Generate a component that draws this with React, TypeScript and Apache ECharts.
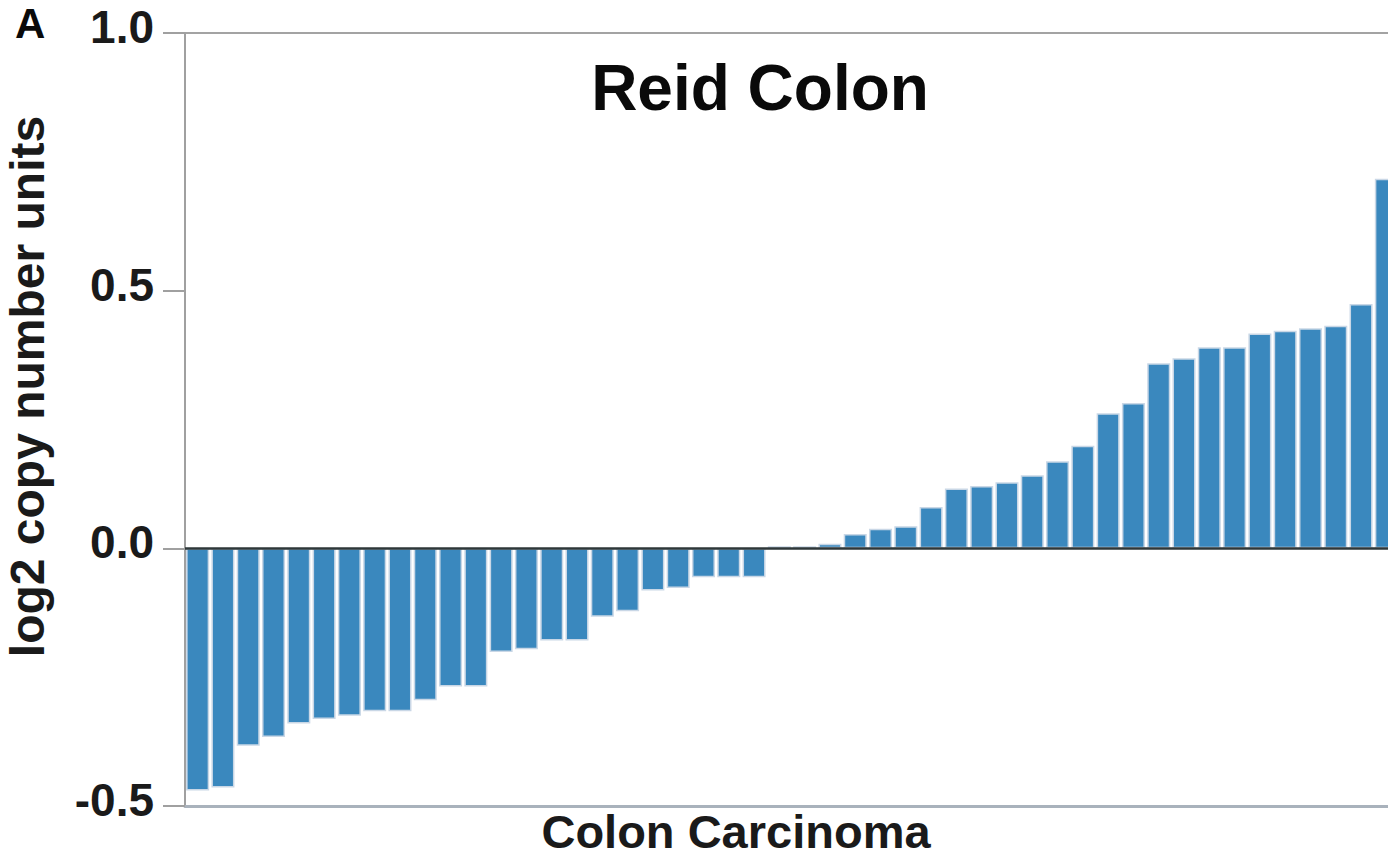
import React, { useEffect, useRef } from "react";
import * as echarts from "echarts";

const samples = [
  "S01", "S02", "S03", "S04", "S05", "S06", "S07", "S08", "S09", "S10",
  "S11", "S12", "S13", "S14", "S15", "S16", "S17", "S18", "S19", "S20",
  "S21", "S22", "S23", "S24", "S25", "S26", "S27", "S28", "S29", "S30",
  "S31", "S32", "S33", "S34", "S35", "S36", "S37", "S38", "S39", "S40",
  "S41", "S42", "S43", "S44", "S45", "S46", "S47", "S48",
];

const copyNumber = [
  -0.47, -0.464, -0.383, -0.366, -0.34, -0.331, -0.325, -0.316, -0.316, -0.295,
  -0.268, -0.268, -0.201, -0.196, -0.179, -0.179, -0.133, -0.122, -0.082, -0.077,
  -0.056, -0.056, -0.056, 0.004, 0.004, 0.009, 0.028, 0.038, 0.043, 0.08,
  0.116, 0.121, 0.128, 0.142, 0.169, 0.199, 0.262, 0.282, 0.359, 0.369,
  0.39, 0.39, 0.417, 0.422, 0.427, 0.432, 0.474, 0.717,
];

const yMin = -0.5;
const yMax = 1.0;
const yStep = 0.5;

const FONT = "'Liberation Sans', Arial, Helvetica, sans-serif";
const INK = "#1a1a1a";

export default function App() {
  const ref = useRef<HTMLDivElement>(null);

  useEffect(() => {
    if (!ref.current) return;
    const chart = echarts.init(ref.current, undefined, { renderer: "svg" });
    chart.setOption({
      animation: false,
      backgroundColor: "#ffffff",
      title: {
        text: "Reid Colon",
        left: 760,
        top: 56,
        textAlign: "center",
        padding: 0,
        textStyle: { fontFamily: FONT, fontWeight: "bold", fontSize: 64, color: "#0a0a0a" },
      },
      graphic: [
        {
          type: "text",
          left: 15,
          top: 2,
          style: { text: "A", fontFamily: FONT, fontWeight: "bold", fontSize: 42, fill: "#0a0a0a" },
        },
      ],
      grid: {
        left: 185,
        top: 33,
        width: 1214,
        height: 773,
        outerBoundsMode: "none",
        containLabel: false,
        show: true,
        borderColor: "#a3a3a3",
        borderWidth: 2,
        backgroundColor: "transparent",
      },
      xAxis: {
        type: "category",
        data: samples,
        axisLine: { show: true, onZero: false, lineStyle: { color: "#a9b2bc", width: 3 } },
        axisTick: { show: false },
        axisLabel: { show: false },
        name: "Colon Carcinoma",
        nameLocation: "middle",
        nameGap: 2,
        nameTextStyle: {
          fontFamily: FONT,
          fontWeight: "bold",
          fontSize: 47,
          color: INK,
          verticalAlign: "top",
          padding: [0, 112, 0, 0],
        },
      },
      yAxis: {
        type: "value",
        min: yMin,
        max: yMax,
        interval: yStep,
        splitLine: { show: false },
        axisLine: { show: true, lineStyle: { color: "#a0a0a0", width: 2 } },
        axisTick: { show: true, length: 22, lineStyle: { color: "#a0a0a0", width: 2 } },
        axisLabel: {
          margin: 31,
          fontFamily: FONT,
          fontWeight: "bold",
          fontSize: 46,
          color: INK,
          verticalAlign: "bottom",
          lineHeight: 12,
          formatter: (v: number) => v.toFixed(1),
        },
        name: "log2 copy number units",
        nameLocation: "middle",
        nameGap: 134,
        nameTextStyle: {
          fontFamily: FONT,
          fontWeight: "bold",
          fontSize: 48,
          color: INK,
          lineHeight: 48,
          padding: [0, 0, 0, 66],
        },
      },
      series: [
        {
          type: "bar",
          data: copyNumber,
          barCategoryGap: "9%",
          itemStyle: {
            color: "#3a88be",
            borderColor: "#c9d7e6",
            borderWidth: 1.5,
          },
          markLine: {
            silent: true,
            symbol: ["none", "none"],
            label: { show: false },
            lineStyle: { color: "#2e3739", width: 2.5, type: "solid" },
            data: [{ yAxis: 0 }],
          },
        },
      ],
    });
    return () => chart.dispose();
  }, []);

  return (
    <div
      ref={ref}
      style={{ position: "fixed", left: 0, top: 0, width: 1400, height: 858, background: "#fff" }}
    />
  );
}
